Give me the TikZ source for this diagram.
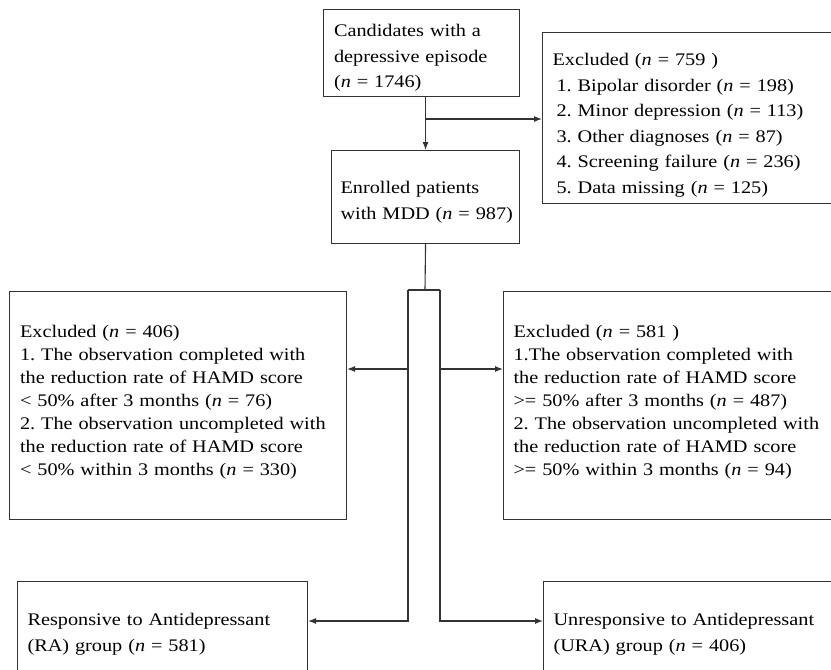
\documentclass[tikz,border=0pt]{standalone}
\usepackage{fontspec}
\setmainfont{Liberation Serif}[FakeStretch=1.145]
\usepackage{tikz}
\usetikzlibrary{arrows.meta}
\frenchspacing
\tikzset{>={Latex[length=8pt,width=6pt]}}
\tikzset{
  box/.style={draw=black!80, line width=1.1pt, rectangle, anchor=north west,
    align=left, inner xsep=10.5pt, inner ysep=0pt,
    font=\fontsize{17.7}{25.5}\selectfont},
  tight/.style={font=\fontsize{17.7}{23}\selectfont},
  link/.style={draw=black!80, line width=1.1pt}
}
\newcommand{\ncount}[1]{(\textit{n} = #1)}

\begin{document}
\begin{tikzpicture}[x=1pt, y=-1pt]
  \useasboundingbox (0,0) rectangle (831,670);
  \clip (0,0) rectangle (831,670);

  % screening
  \node[box, text width=175, text height=27, text depth=60] (cand) at (323,9)
    {Candidates with a\\ depressive episode\\ \ncount{1746}};
  \node[box, inner xsep=10pt, text width=300, text height=33, text depth=138] (excl) at (542,32)
    {Excluded \ncount{759 }\\
     \hspace*{4pt}1. Bipolar disorder \ncount{198}\\
     \hspace*{4pt}2. Minor depression \ncount{113}\\
     \hspace*{4pt}3. Other diagnoses \ncount{87}\\
     \hspace*{4pt}4. Screening failure \ncount{236}\\
     \hspace*{4pt}5. Data missing \ncount{125}};
  \node[box, inner xsep=9pt, text width=170, text height=43, text depth=50] (enr) at (331,150)
    {Enrolled patients\\ \mbox{with MDD \ncount{987}}};

  % exclusions after follow-up
  \node[box, tight, text width=316, text height=46, text depth=182] (exl) at (9,291)
    {Excluded \ncount{406}\\
     1. The observation completed with\\
     the reduction rate of HAMD score\\
     < 50\% after 3 months \ncount{76}\\
     2. The observation uncompleted with\\
     the reduction rate of HAMD score\\
     < 50\% within 3 months \ncount{330}};
  \node[box, tight, inner xsep=10pt, text width=320, text height=46, text depth=182] (exr) at (503,291)
    {Excluded \ncount{581 }\\
     1.The observation completed with\\
     the reduction rate of HAMD score\\
     >= 50\% after 3 months \ncount{487}\\
     2. The observation uncompleted with\\
     the reduction rate of HAMD score\\
     >= 50\% within 3 months \ncount{94}};

  % groups
  \node[box, inner xsep=10pt, text width=270, text height=44, text depth=65] (ra) at (17,581)
    {Responsive to Antidepressant\\ (RA) group \ncount{581}};
  \node[box, inner xsep=10pt, text width=280, text height=44, text depth=65] (ura) at (543,581)
    {Unresponsive to Antidepressant\\ (URA) group \ncount{406}};

  % connectors
  \coordinate (brA) at (425,119);
  \coordinate (jn) at (425,290);
  \coordinate (jl) at (408,290);
  \coordinate (jr) at (440,290);
  \coordinate (al) at (408,369);
  \coordinate (ar) at (440,369);
  \coordinate (bl) at (408,621);
  \coordinate (br) at (440,621);

  \draw[link, ->] (cand.south -| enr.north) -- (enr.north);
  \draw[link, ->] (brA) -- (excl.west |- brA);
  \draw[link] (enr.south) -- (jn);
  \draw[link] (jl) -- (jr);
  \draw[link, ->] (jl) -- (bl) -- (ra.east |- bl);
  \draw[link, ->] (jr) -- (br) -- (ura.west |- br);
  \draw[link, ->] (al) -- (exl.east |- al);
  \draw[link, ->] (ar) -- (exr.west |- ar);
\end{tikzpicture}
\end{document}
